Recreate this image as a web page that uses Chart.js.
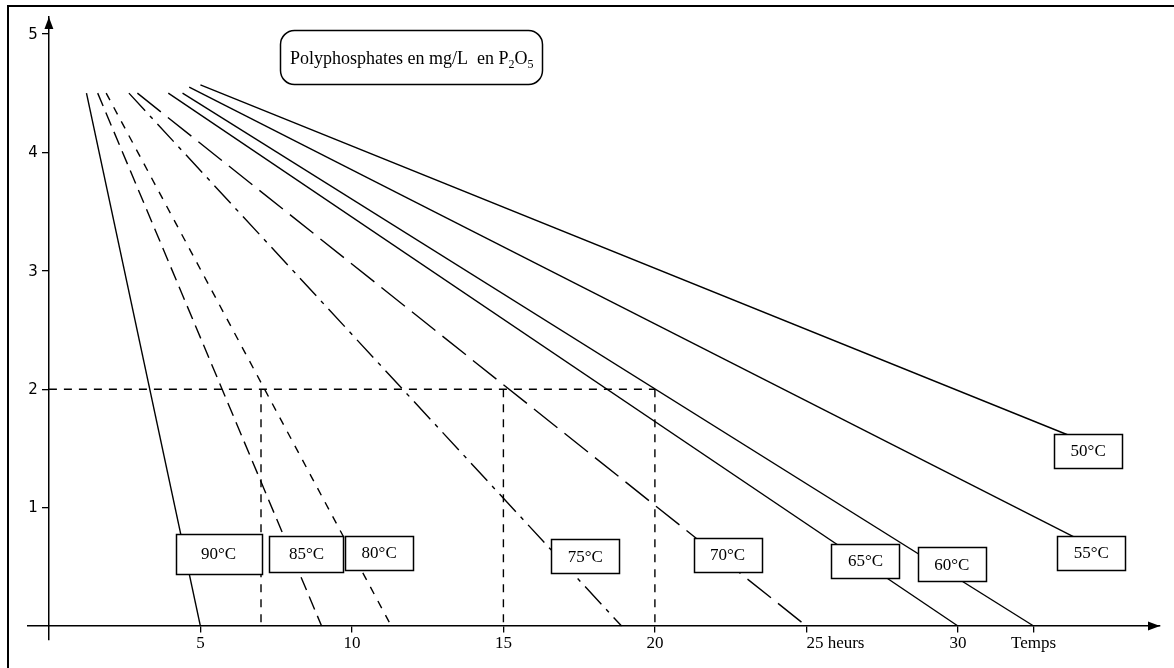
<!DOCTYPE html>
<html>
<head>
<meta charset="utf-8">
<script src="https://cdn.jsdelivr.net/npm/chart.js@4.4.1/dist/chart.umd.min.js"></script>
<style>
  html, body { margin: 0; padding: 0; background: #fff; overflow: hidden; }
  #wrap { width: 1174px; height: 668px; position: relative; }
</style>
</head>
<body>
<div id="wrap"><canvas id="chart"></canvas></div>
<script>
// one straight curve per temperature, from ~4.5 mg/L down to the time axis
const curveLabels = ["90°C", "85°C", "80°C", "75°C", "70°C", "65°C", "60°C", "55°C", "50°C"];
const startHours = [1.24, 1.61, 1.89, 2.64, 2.92, 3.94, 4.41, 4.63, 5.0];
const startLevels = [4.5, 4.5, 4.5, 4.5, 4.5, 4.5, 4.5, 4.55, 4.57];
const endHours = [5, 9.0, 11.3, 18.9, 25, 30, 32.5, 34.46, 34.25];
const endLevels = [0, 0, 0, 0, 0, 0, 0, 0.67, 1.55];

// reading guides at 2 mg/L
const guideLevel = 2;
const guideHours = [7, 15, 20];

const xTickValues = [5, 10, 15, 20, 25, 30, 32.5];
const xTickLabels = ["5", "10", "15", "20", "25 heurs", "30", "Temps"];
const yTickValues = [1, 2, 3, 4, 5];
const yTickLabels = ["1", "2", "3", "4", "5"];

const SERIF = '"Liberation Serif", "Times New Roman", serif';
const SANS = '"DejaVu Sans", Tahoma, sans-serif';

const curveDashes = [[], [14, 7], [8, 8], [24, 7, 4, 7], [30, 9], [], [], [], []];
const guideDash = [8, 7];
const xTickAlign = ["center", "center", "center", "center", "left", "center", "center"];

// where the temperature boxes sit (hours, mg/L) and their size in px
const labelBoxes = [
  { x: 5.6, y: 0.61, w: 86, h: 40 },
  { x: 8.5, y: 0.61, w: 74, h: 36 },
  { x: 10.9, y: 0.62, w: 68, h: 34 },
  { x: 17.7, y: 0.59, w: 68, h: 34 },
  { x: 22.4, y: 0.60, w: 68, h: 34 },
  { x: 26.95, y: 0.55, w: 68, h: 34 },
  { x: 29.8, y: 0.52, w: 68, h: 34 },
  { x: 34.4, y: 0.62, w: 68, h: 34 },
  { x: 34.3, y: 1.48, w: 68, h: 34 },
];

function line(data, dash) {
  return {
    data: data,
    borderColor: "#000",
    borderWidth: 1.4,
    borderDash: dash,
    pointRadius: 0,
    fill: false,
    tension: 0,
  };
}

const datasets = curveLabels.map((label, i) =>
  Object.assign(line([
    { x: startHours[i], y: startLevels[i] },
    { x: endHours[i], y: endLevels[i] },
  ], curveDashes[i]), { label: label })
);
datasets.push(line([
  { x: 0, y: guideLevel },
  { x: Math.max(...guideHours), y: guideLevel },
], guideDash));
guideHours.forEach((h) => {
  datasets.push(line([{ x: h, y: guideLevel }, { x: h, y: 0 }], guideDash));
});

const decorations = {
  id: "decorations",
  beforeDraw(chart) {
    const c = chart.ctx;
    c.save();
    c.fillStyle = "#fff";
    c.fillRect(0, 0, chart.width, chart.height);
    c.strokeStyle = "#000";
    c.lineWidth = 2;
    c.strokeRect(8, 6, chart.width + 20, chart.height + 20);
    c.restore();
  },
  afterDatasetsDraw(chart) {
    const c = chart.ctx;
    const xs = chart.scales.x;
    const ys = chart.scales.y;
    const area = chart.chartArea;
    const x0 = xs.getPixelForValue(0);
    const y0 = ys.getPixelForValue(0);
    c.save();

    // arrow heads
    c.fillStyle = "#000";
    c.beginPath();
    c.moveTo(x0, area.top);
    c.lineTo(x0 - 4.5, area.top + 12);
    c.lineTo(x0 + 4.5, area.top + 12);
    c.closePath();
    c.fill();
    c.beginPath();
    c.moveTo(area.right, y0);
    c.lineTo(area.right - 12, y0 - 4.5);
    c.lineTo(area.right - 12, y0 + 4.5);
    c.closePath();
    c.fill();

    // tick labels (axes sit on the zero lines, so they are placed by hand)
    c.font = "15px " + SANS;
    c.textAlign = "right";
    c.textBaseline = "middle";
    yTickValues.forEach((v, i) => {
      c.fillText(yTickLabels[i], x0 - 11, ys.getPixelForValue(v) + 1);
    });
    c.font = "17px " + SERIF;
    c.textBaseline = "top";
    xTickValues.forEach((v, i) => {
      c.textAlign = xTickAlign[i];
      c.fillText(xTickLabels[i], xs.getPixelForValue(v), y0 + 9);
    });

    // temperature boxes
    c.font = "17px " + SERIF;
    c.textAlign = "center";
    c.textBaseline = "middle";
    c.lineWidth = 1.5;
    c.strokeStyle = "#000";
    labelBoxes.forEach((b, i) => {
      const cx = xs.getPixelForValue(b.x);
      const cy = ys.getPixelForValue(b.y);
      const l = Math.round(cx - b.w / 2) + 0.5;
      const t = Math.round(cy - b.h / 2) + 0.5;
      c.fillStyle = "#fff";
      c.fillRect(l, t, b.w, b.h);
      c.strokeRect(l, t, b.w, b.h);
      c.fillStyle = "#000";
      c.fillText(curveLabels[i], cx, cy + 1);
    });

    // title box
    c.beginPath();
    c.roundRect(280.5, 30.5, 262, 54, 14);
    c.fillStyle = "#fff";
    c.fill();
    c.stroke();
    c.textAlign = "left";
    c.textBaseline = "alphabetic";
    c.fillStyle = "#000";
    let tx = 290;
    [["Polyphosphates en mg/L  en P", 0], ["2", 1], ["O", 0], ["5", 1]].forEach(([s, sub]) => {
      c.font = (sub ? "12px " : "18px ") + SERIF;
      c.fillText(s, tx, sub ? 68 : 64);
      tx += c.measureText(s).width;
    });
    c.restore();
  },
};

new Chart(document.getElementById("chart"), {
  type: "line",
  data: { datasets: datasets },
  options: {
    responsive: true,
    maintainAspectRatio: false,
    animation: false,
    layout: { padding: { left: 28, right: 14, top: 17, bottom: 28 } },
    plugins: {
      legend: { display: false },
      tooltip: { enabled: false },
    },
    scales: {
      x: {
        type: "linear",
        min: -0.69,
        max: 36.67,
        position: { y: 0 },
        afterBuildTicks: (s) => { s.ticks = xTickValues.map((v) => ({ value: v })); },
        ticks: { display: false, autoSkip: false },
        grid: { display: true, drawOnChartArea: false, drawTicks: true, tickLength: 6, color: "#000", lineWidth: 1.3 },
        border: { display: true, color: "#000", width: 1.5 },
      },
      y: {
        type: "linear",
        min: -0.118,
        max: 5.143,
        position: { x: 0 },
        afterBuildTicks: (s) => { s.ticks = yTickValues.map((v) => ({ value: v })); },
        ticks: { display: false, autoSkip: false },
        grid: { display: true, drawOnChartArea: false, drawTicks: true, tickLength: 6, color: "#000", lineWidth: 1.3 },
        border: { display: true, color: "#000", width: 1.5 },
      },
    },
  },
  plugins: [decorations],
});
</script>
</body>
</html>
